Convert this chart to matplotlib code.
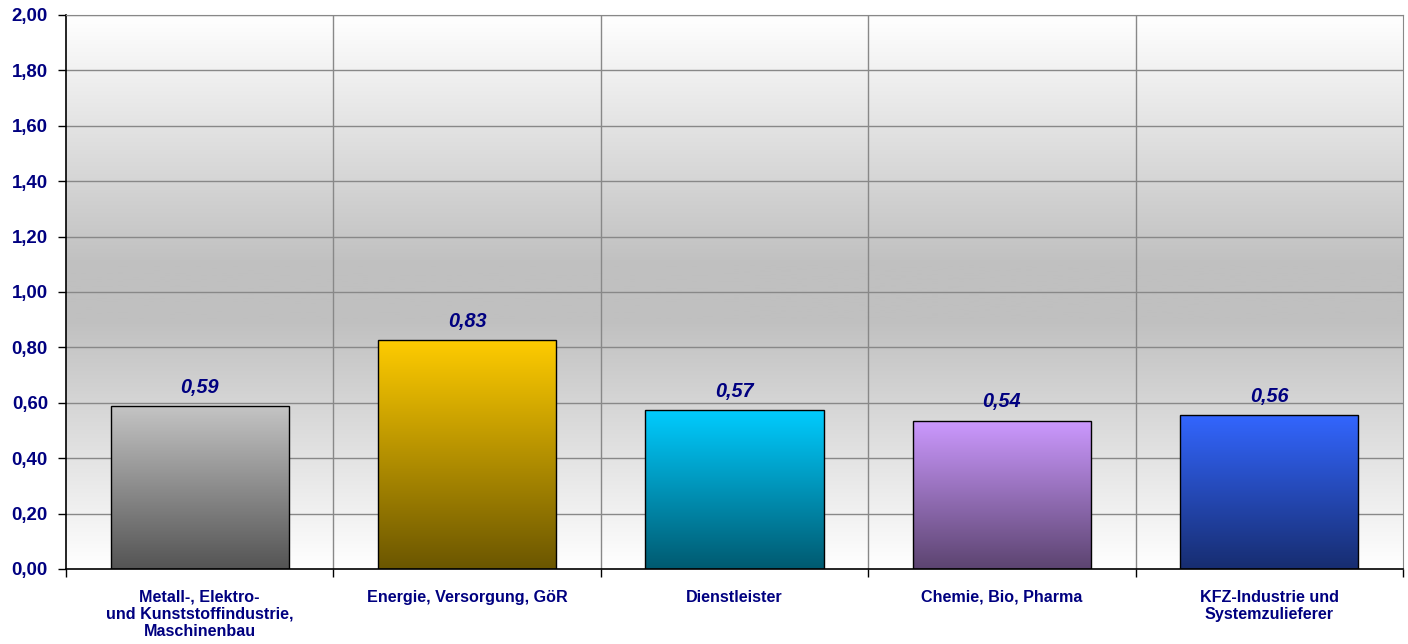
import numpy as np
import matplotlib.pyplot as plt
from matplotlib.colors import LinearSegmentedColormap
from matplotlib.ticker import MultipleLocator, FuncFormatter

categories = ["Metall-, Elektro-\nund Kunststoffindustrie,\nMaschinenbau",
              "Energie, Versorgung, GöR",
              "Dienstleister",
              "Chemie, Bio, Pharma",
              "KFZ-Industrie und\nSystemzulieferer"]
values = [0.588, 0.827, 0.574, 0.535, 0.556]
top_colors = ["#c4c4c4", "#ffcc00", "#00ccff", "#cc99ff", "#3366ff"]
bottom_colors = ["#545454", "#6b5600", "#005a70", "#5c4470", "#172d70"]

navy = "#000080"
plt.rcParams['font.family'] = ['Liberation Sans', 'DejaVu Sans']

fig = plt.figure(figsize=(14.08, 6.44), dpi=100)
ax = fig.add_axes([66 / 1408, 1 - 569 / 644, 1337 / 1408, 554 / 644])

x = np.arange(len(categories))
ax.set_xlim(-0.5, len(categories) - 0.5)
ax.set_ylim(0, 2.0)

# background gradient: white top -> gray middle -> white bottom
bg = LinearSegmentedColormap.from_list("bg", [(0, "#ffffff"), (0.45, "#c0c0c0"), (0.55, "#c0c0c0"), (1, "#ffffff")])
grad = np.linspace(0, 1, 256).reshape(-1, 1)
ax.imshow(grad, cmap=bg, aspect="auto", extent=(-0.5, len(categories) - 0.5, 2.0, 0), zorder=0)

# grid
for yv in np.arange(0.2, 2.01, 0.2):
    ax.axhline(yv, color="#888888", lw=1, zorder=1)
for xv in np.arange(0.5, len(categories) - 0.5, 1):
    ax.axvline(xv, color="#888888", lw=1, zorder=1)

bars = ax.bar(x, values, width=0.667, facecolor="none", edgecolor="black", lw=1, zorder=3)
for b, v, tc, bc in zip(bars, values, top_colors, bottom_colors):
    cm = LinearSegmentedColormap.from_list("b", [tc, bc])
    im = ax.imshow(grad, cmap=cm, aspect="auto",
                   extent=(b.get_x(), b.get_x() + b.get_width(), 0, v), zorder=2)
    im.set_clip_path(b)
    ax.text(b.get_x() + b.get_width() / 2, v + 0.034, f"{v:.2f}".replace(".", ","),
            ha="center", va="bottom", fontsize=14.3, fontweight="bold", style="italic", color=navy, zorder=4)

ax.yaxis.set_major_locator(MultipleLocator(0.2))
ax.yaxis.set_major_formatter(FuncFormatter(lambda v, p: f"{v:.2f}".replace(".", ",")))
ax.tick_params(axis="y", labelsize=13.4, labelcolor=navy, length=6, direction="out", width=1, pad=7)
for t in ax.get_yticklabels():
    t.set_fontweight("bold")

ax.set_xticks(np.arange(-0.5, len(categories), 1))
ax.set_xticklabels([])
ax.tick_params(axis="x", length=6, direction="out", width=1)
for xi, c in zip(x, categories):
    ax.text(xi, -0.075, c, ha="center", va="top", fontsize=11.6, fontweight="bold",
            color=navy, linespacing=1.16, transform=ax.transData, clip_on=False)

for s in ["top", "right"]:
    ax.spines[s].set_color("#888888")
for s in ["left", "bottom"]:
    ax.spines[s].set_color("black")
    ax.spines[s].set_linewidth(1.2)

fig.savefig("out.png", dpi=100)
